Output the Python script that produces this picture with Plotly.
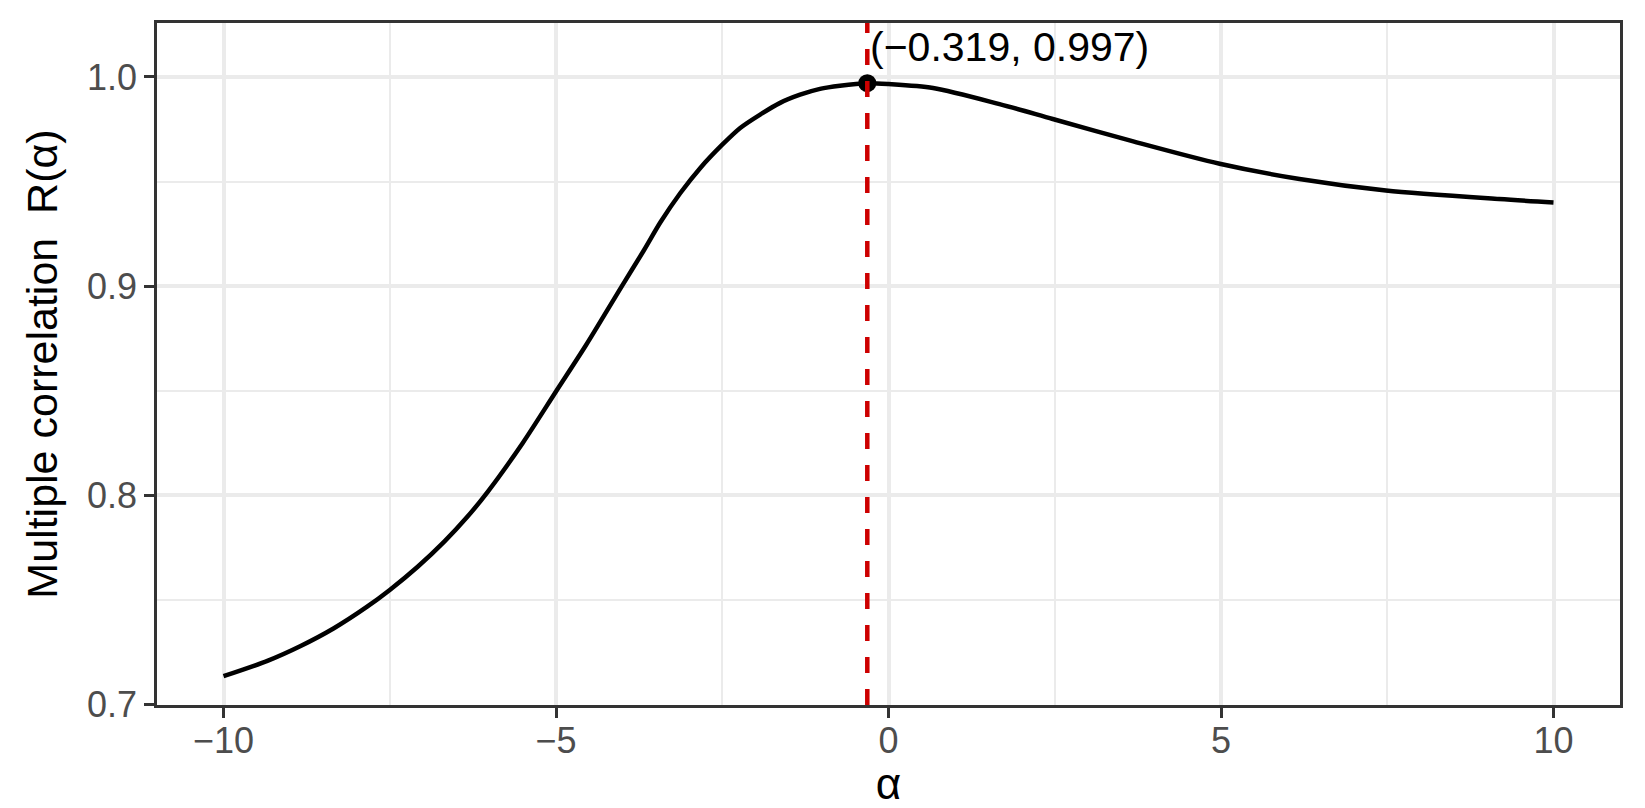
import plotly.graph_objects as go

# R(alpha) curve
alpha = [-10, -9.34, -8.84, -8.34, -7.84, -7.5, -7.08, -6.68, -6.33, -6.03,
         -5.5, -5.0, -4.55, -4.0, -3.68, -3.43, -3.13, -2.83, -2.5, -2.23,
         -1.93, -1.63, -1.33, -1.03, -0.73, -0.319, 0, 0.67, 1.67, 2.47,
         3.68, 4.98, 6.18, 7.48, 9.18, 10]
r_alpha = [0.7135, 0.7208, 0.7279, 0.7364, 0.7467, 0.7547, 0.7658, 0.7778, 0.7898, 0.8015,
           0.8250, 0.8496, 0.8717, 0.9005, 0.9170, 0.9305, 0.9445, 0.9565, 0.9676, 0.9756,
           0.9820, 0.9876, 0.9915, 0.9943, 0.9958, 0.997, 0.9966, 0.9947, 0.9870, 0.9799,
           0.9692, 0.9585, 0.9512, 0.9457, 0.9416, 0.940]

best_alpha = -0.319
best_r = 0.997
x_ticks = [-10, -5, 0, 5, 10]
x_labels = ["\u221210", "\u22125", "0", "5", "10"]
y_ticks = [0.7, 0.8, 0.9, 1.0]
y_labels = ["0.7", "0.8", "0.9", "1.0"]

font = "Liberation Sans, Arial, sans-serif"

fig = go.Figure()
fig.add_trace(go.Scatter(x=alpha, y=r_alpha, mode="lines",
                         line=dict(color="black", width=4.5, shape="spline", smoothing=0.8),
                         hoverinfo="skip", showlegend=False))
fig.add_trace(go.Scatter(x=[best_alpha], y=[best_r], mode="markers",
                         marker=dict(color="black", size=18), showlegend=False))

# dashed marker of the maximum, over the point like in the original
fig.add_shape(type="line", xref="x", yref="paper", x0=best_alpha, x1=best_alpha, y0=0, y1=1,
              line=dict(color="#CD0000", width=4.5, dash="16px,16px"))

fig.add_annotation(x=best_alpha, y=1.0142, xref="x", yref="y",
                   text="(\u22120.319, 0.997)", showarrow=False,
                   xanchor="left", yanchor="middle", xshift=1,
                   font=dict(family=font, size=41, color="black"))

axis_common = dict(showline=True, linecolor="#333333", linewidth=2.7, mirror=True,
                   ticks="outside", ticklen=10, tickwidth=3, tickcolor="#333333",
                   gridcolor="#EBEBEB", gridwidth=3.5, zeroline=False,
                   tickfont=dict(family=font, size=36, color="#4D4D4D"))

fig.update_xaxes(range=[-11, 11], tickvals=x_ticks, ticktext=x_labels, ticklabelstandoff=-8,
                 minor=dict(tickvals=[-7.5, -2.5, 2.5, 7.5], showgrid=True,
                            gridcolor="#EBEBEB", gridwidth=2, ticks=""),
                 title=dict(text="\u03b1", font=dict(family=font, size=44, color="black"),
                            standoff=0),
                 **axis_common)
fig.update_yaxes(range=[0.6997, 1.0258], tickvals=y_ticks, ticktext=y_labels,
                 minor=dict(tickvals=[0.75, 0.85, 0.95], showgrid=True,
                            gridcolor="#EBEBEB", gridwidth=2, ticks=""),
                 title=dict(text="Multiple correlation\u00a0 R(\u03b1)",
                            font=dict(family=font, size=43, color="black"), standoff=16),
                 **axis_common)

# page body adds an 8px offset, so the figure is 8px smaller than the window
fig.update_layout(width=1637, height=800, plot_bgcolor="white", paper_bgcolor="white",
                  margin=dict(l=149, r=25, t=15, b=103), showlegend=False)

fig.write_html("out.html")
